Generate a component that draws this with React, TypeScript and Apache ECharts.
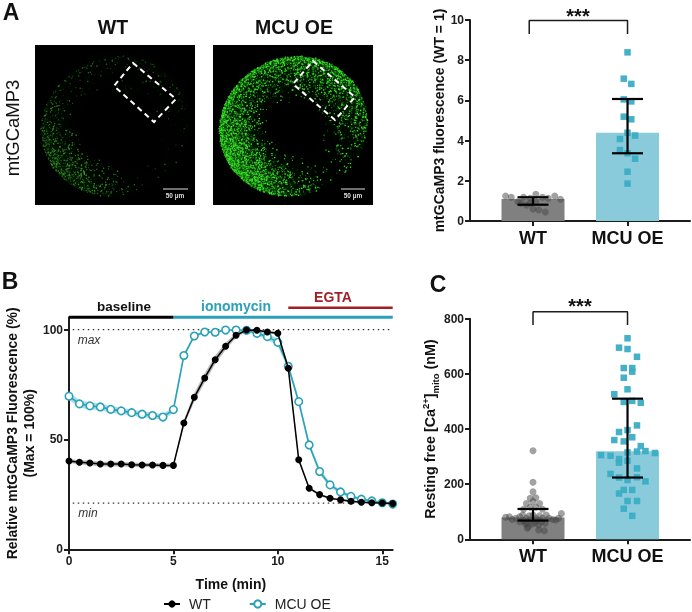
import React, { useEffect, useRef } from "react";
import * as echarts from "echarts";

const FONT = '"Liberation Sans", Arial, sans-serif';
const INK = "#1c1c1c";
const GREY_BAR = "#808080";
const TEAL_BAR = "#89cbdb";
const TEAL = "#2aa1b8";
const TEAL_DOT = "#3aadc6";
const GREY_DOT = "rgba(70,70,70,0.5)";
const RED = "#a31f27";

const groupLabels = ["WT", "MCU OE"];
const groupPositions = [0, 1];

// Panel A
const aMeans = [1.1, 4.39];
const aErrors = [
  [0, 0.81, 1.18],
  [1, 3.37, 6.07],
];
const aWtDots = [
  [-0.29, 1.24], [-0.23, 1.18], [-0.16, 0.96], [-0.1, 1.18], [-0.03, 1.13], [0.03, 1.33],
  [0.1, 1.18], [0.16, 1.13], [0.23, 1.24], [0.29, 1.08], [-0.13, 0.88], [-0.07, 0.8],
  [0, 0.6], [0.06, 0.55], [0.13, 0.45], [-0.03, 0.88], [0.03, 0.98],
];
const aMcuDots = [
  [1, 8.39], [0.96, 7.08], [1.04, 6.82], [0.96, 6.05], [1.04, 5.95], [0.96, 5.19], [1.04, 5.06],
  [1, 4.39], [0.92, 4.08], [1.08, 4.25], [0.92, 3.53], [1, 3.37], [1.08, 3.1], [1, 2.45], [1, 1.86],
];
const aBracket = [[-0.04, 9.3], [-0.04, 9.97], [1, 9.97], [1, 9.3]];

// Panel B
const timeMin = [0, 0.5, 1, 1.5, 2, 2.5, 3, 3.5, 4, 4.5, 5, 5.5, 6, 6.5, 7, 7.5, 8, 8.5, 9, 9.5, 10, 10.5, 11, 11.5, 12, 12.5, 13, 13.5, 14, 14.5, 15, 15.5];
const wtTrace = [40.2, 39.6, 39.3, 38.8, 38.8, 38.8, 38.5, 38.4, 38.4, 38.2, 38.2, 57.5, 69.2, 78, 86.3, 92.4, 97.4, 99.8, 99.7, 98.9, 98.3, 82.4, 40.8, 27.8, 24.9, 23.2, 22.5, 21.9, 21.4, 21.2, 21.1, 20.8];
const wtSem = [0.8, 0.9, 1, 1, 1, 1, 0.9, 0.9, 0.9, 0.8, 0.7, 1, 1.8, 2, 1.8, 1.6, 1, 0.4, 0.4, 0.6, 0.6, 0.8, 0.6, 0.5, 0.5, 0.4, 0.4, 0.4, 0.3, 0.3, 0.3, 0.3];
const mcuTrace = [69.7, 66.2, 65.3, 64.8, 63.7, 63, 62.2, 61.5, 60.9, 60.2, 63.6, 88.2, 97.1, 98.9, 98.8, 99.8, 99.8, 99.7, 98.3, 96.8, 94.2, 83.3, 67.2, 47.5, 35.4, 29.3, 26.1, 24.1, 22.8, 22, 21.2, 20.6];
const mcuSem = [1.6, 1.6, 1.5, 1.5, 1.4, 1.4, 1.3, 1.3, 1.3, 1.3, 1.3, 0.8, 0.6, 0.5, 0.4, 0.3, 0.3, 0.5, 1, 1.3, 1.6, 1.2, 1.2, 1.2, 1.2, 1, 0.8, 0.7, 0.6, 0.5, 0.5, 0.6];
const timeTicks = [0, 5, 10, 15];
const percentTicks = [0, 50, 100];
const maxLine = [[0.18, 100], [15.5, 100]];
const minLine = [[0.18, 21], [15.5, 21]];
const baselineBar = [[0, 105.6], [5, 105.6]];
const ionomycinBar = [[5, 105.6], [15.5, 105.6]];
const egtaBar = [[10.5, 110], [15.5, 110]];

// Panel C
const cMeans = [79, 319];
const cErrors = [
  [0, 68, 110],
  [1, 224, 510],
];
const cWtDots = [
  [0, 321], [0, 207], [0, 172], [-0.03, 149], [0.03, 151], [-0.07, 130], [0.07, 130], [0, 137],
  [-0.1, 109], [0.1, 109], [0.3, 93], [-0.03, 116], [0.03, 116],
  [-0.29, 80], [-0.25, 82], [-0.22, 72], [-0.18, 76], [-0.14, 82], [-0.11, 88], [-0.07, 76],
  [-0.04, 85], [0, 88], [0.03, 76], [0.07, 85], [0.1, 76], [0.14, 88], [0.17, 76], [0.21, 72],
  [0.24, 70], [0.27, 76],
  [-0.14, 64], [-0.08, 56], [-0.05, 46], [-0.01, 56], [0.02, 60], [0.06, 52], [0.09, 64],
  [0.13, 58], [-0.07, 60], [-0.1, 68], [-0.03, 70], [0.04, 70], [0.12, 31], [0.06, 34], [-0.06, 40],
];
const cMcuDots = [
  [1, 729], [0.91, 695], [1, 690], [1.1, 662], [0.96, 621], [1.05, 621], [1.05, 608], [0.96, 586],
  [1, 544], [0.86, 526], [0.96, 498], [1.05, 502], [1.14, 495], [1.1, 413], [1, 396], [0.91, 389],
  [1.05, 370], [0.86, 360], [0.96, 355], [1.14, 338], [1.19, 320], [1.29, 313], [1.1, 318], [1, 315],
  [0.72, 305], [0.82, 303], [0.91, 291], [1, 285], [0.91, 278], [1.1, 257], [0.82, 237], [1.1, 225],
  [0.91, 224], [1, 215], [1.19, 210], [0.96, 179], [1.05, 179], [0.91, 166], [1, 139], [1.1, 139],
  [0.96, 111], [1.05, 85],
];
const cBracket = [[0, 777], [0, 825], [1, 825], [1, 777]];

function hash(i: number, j: number, k: number) {
  let h = (i * 374761393 + j * 668265263 + k * 2147483647) | 0;
  h = Math.imul(h ^ (h >>> 13), 1274126177);
  h = Math.imul(h ^ (h >>> 16), 2246822519);
  return ((h ^ (h >>> 15)) >>> 0) / 4294967296;
}
const smooth = (a: number, b: number, v: number) => {
  const t = Math.min(1, Math.max(0, (v - a) / (b - a)));
  return t * t * (3 - 2 * t);
};

// The micrographs are photographs, not data: a deterministic speckle texture stands in for them.
function micrograph(bright: boolean) {
  const cv = document.createElement("canvas");
  cv.width = 320;
  cv.height = 320;
  const ctx = cv.getContext("2d")!;
  ctx.fillStyle = "#000";
  ctx.fillRect(0, 0, 320, 320);
  ctx.scale(2, 2);
  (ctx as any).filter = "blur(0.7px)";
  const cx = 80;
  const cy = 81;
  const R = 72;
  for (let j = 0; j < 160; j++) {
    for (let i = 0; i < 160; i++) {
      const dx = (i - cx) / R;
      const dy = (j - cy) / R;
      const a = Math.atan2(dy, dx);
      const d = Math.hypot(dx, dy) / (1 + 0.04 * Math.cos(2 * a + 0.8));
      if (d > 1) continue;
      const ll = Math.cos(a - 2.3) * 0.5 + 0.5;
      const ur = Math.cos(a + 0.8) * 0.5 + 0.5;
      const lr = Math.cos(a - 0.9) * 0.5 + 0.5;
      const fade = 1 - 0.92 * lr * lr * lr;
      const rim = smooth(0.88, 0.99, d) * (1 - lr) * (bright ? 0.4 : 0.05);
      const edge = smooth(bright ? 0.3 : 0.45, 0.95, d) * fade;
      const p = bright
        ? edge * (0.2 + 0.6 * ll * ll * ll + 0.22 * ur * ur) + rim
        : edge * (0.014 + 0.36 * ll * ll * ll * ll + 0.035 * ur) + rim;
      // soft haze below the speckles
      ctx.fillStyle = `rgba(30,${bright ? 200 : 150},20,${Math.min(1, p) * (bright ? 0.38 : 0.4)})`;
      ctx.fillRect(i, j, 1, 1);
      if (hash(i, j, bright ? 7 : 3) > p) continue;
      const v = hash(i, j, 11);
      const alpha = bright ? 0.45 + 0.55 * v : 0.2 + 0.35 * v + 0.3 * ll * ll;
      ctx.fillStyle = `rgba(${30 + v * 40},${bright ? 240 : 170},${20 + v * 30},${alpha})`;
      ctx.beginPath();
      ctx.arc(i + hash(i, j, 5), j + hash(i, j, 9), 0.4 + 0.4 * v, 0, 7);
      ctx.fill();
    }
  }
  return cv.toDataURL("image/png");
}

const axisLine = { show: true, onZero: false, lineStyle: { color: INK, width: 2 } };
const axisTick = (customValues?: number[]) => ({
  show: true,
  length: 5,
  lineStyle: { color: INK, width: 2 },
  ...(customValues ? { customValues } : {}),
});
const tickLabel = (customValues?: number[]) => ({
  color: INK,
  fontFamily: FONT,
  fontWeight: "bold" as const,
  fontSize: 12,
  margin: 6,
  ...(customValues ? { customValues } : {}),
});

function groupAxis(gridIndex: number) {
  return {
    type: "value",
    gridIndex,
    min: -0.6667,
    max: 1.661,
    splitLine: { show: false },
    axisLine,
    axisTick: axisTick(groupPositions),
    axisLabel: {
      color: "#111",
      fontFamily: FONT,
      fontWeight: "bold",
      fontSize: 18,
      margin: 8,
      customValues: groupPositions,
      formatter: (v: number) => groupLabels[Math.round(v)] ?? "",
    },
  };
}

function barSeries(idx: number, means: number[]) {
  return {
    type: "bar",
    xAxisIndex: idx,
    yAxisIndex: idx,
    barWidth: 63,
    silent: true,
    z: 1,
    data: means.map((m, i) => ({
      value: [groupPositions[i], m],
      itemStyle: { color: i === 0 ? GREY_BAR : TEAL_BAR },
    })),
  };
}
function dotSeries(idx: number, data: number[][], square: boolean) {
  return {
    type: "scatter",
    xAxisIndex: idx,
    yAxisIndex: idx,
    symbol: square ? "rect" : "circle",
    symbolSize: square ? 6.5 : 7,
    itemStyle: { color: square ? TEAL_DOT : GREY_DOT, opacity: square ? 0.95 : 1 },
    z: 2,
    data,
  };
}
function errorSeries(idx: number, data: number[][]) {
  return {
    type: "custom",
    xAxisIndex: idx,
    yAxisIndex: idx,
    z: 3,
    clip: false,
    data,
    encode: { x: 0, y: [1, 2] },
    renderItem: (_: any, api: any) => {
      const lo = api.coord([api.value(0), api.value(1)]);
      const hi = api.coord([api.value(0), api.value(2)]);
      const style = { stroke: "#000", lineWidth: 2.2, fill: "none" };
      const line = (x1: number, y1: number, x2: number, y2: number) => ({
        type: "line",
        shape: { x1, y1, x2, y2 },
        style,
      });
      return {
        type: "group",
        children: [
          line(lo[0], lo[1], hi[0], hi[1]),
          line(lo[0] - 15.5, lo[1], lo[0] + 15.5, lo[1]),
          line(hi[0] - 15.5, hi[1], hi[0] + 15.5, hi[1]),
        ],
      };
    },
  };
}
function pathSeries(idx: number, data: number[][], color: string, width: number, extra: any = {}) {
  return {
    type: "line",
    xAxisIndex: idx,
    yAxisIndex: idx,
    data,
    clip: false,
    silent: true,
    symbol: "none",
    lineStyle: { color, width, cap: "butt", ...extra },
    z: 2,
  };
}
// Shaded SEM band: one quad between each pair of neighbouring time points.
function bandSeries(mean: number[], sem: number[], color: string) {
  const data = timeMin.slice(0, -1).map((t, i) => [
    t, mean[i] - sem[i], mean[i] + sem[i],
    timeMin[i + 1], mean[i + 1] - sem[i + 1], mean[i + 1] + sem[i + 1],
  ]);
  return {
    type: "custom",
    xAxisIndex: 1,
    yAxisIndex: 1,
    silent: true,
    z: 1,
    data,
    encode: { x: [0, 3], y: [1, 2, 4, 5] },
    renderItem: (_: any, api: any) => ({
      type: "polygon",
      shape: {
        points: [
          api.coord([api.value(0), api.value(1)]),
          api.coord([api.value(3), api.value(4)]),
          api.coord([api.value(3), api.value(5)]),
          api.coord([api.value(0), api.value(2)]),
        ],
      },
      style: { fill: color, stroke: color, lineWidth: 0.3 },
    }),
  };
}

function txt(text: string, x: number, y: number, fontSize: number, extra: any = {}) {
  return {
    type: "text",
    x,
    y,
    silent: true,
    style: {
      text,
      fontSize,
      fontFamily: FONT,
      fontWeight: "bold",
      fill: "#111",
      align: "center",
      verticalAlign: "middle",
      ...extra,
    },
  };
}

export default function App() {
  const ref = useRef<HTMLDivElement>(null);
  useEffect(() => {
    const chart = echarts.init(ref.current!, undefined, { renderer: "svg" });
    const dashed = (points: number[][]) => ({
      type: "polygon",
      silent: true,
      z: 5,
      shape: { points },
      style: { fill: "none", stroke: "#fff", lineWidth: 2, lineDash: [5.5, 4] },
    });
    const scale = (x1: number, x2: number, y: number) => ({
      type: "line",
      silent: true,
      z: 5,
      shape: { x1, y1: y, x2, y2: y },
      style: { stroke: "#ddd", lineWidth: 1 },
    });
    chart.setOption({
      animation: false,
      textStyle: { fontFamily: FONT },
      grid: [
        { left: 470, top: 20, width: 220, height: 201 },
        { left: 69, top: 317.3, width: 323.7, height: 232 },
        { left: 470, top: 318.7, width: 220, height: 220.6 },
      ],
      xAxis: [
        groupAxis(0),
        {
          type: "value",
          gridIndex: 1,
          min: 0,
          max: 15.5,
          splitLine: { show: false },
          axisLine,
          axisTick: axisTick(timeTicks),
          axisLabel: tickLabel(timeTicks),
          name: "Time (min)",
          nameLocation: "middle",
          nameGap: 28,
          nameTextStyle: { color: "#111", fontFamily: FONT, fontWeight: "bold", fontSize: 14 },
        },
        groupAxis(2),
      ],
      yAxis: [
        {
          type: "value",
          gridIndex: 0,
          min: 0,
          max: 10,
          interval: 2,
          splitLine: { show: false },
          axisLine,
          axisTick: axisTick(),
          axisLabel: tickLabel(),
          name: "mtGCaMP3 fluorescence (WT = 1)",
          nameLocation: "middle",
          nameGap: 24,
          nameTextStyle: { color: "#111", fontFamily: FONT, fontWeight: "bold", fontSize: 14 },
        },
        {
          type: "value",
          gridIndex: 1,
          min: 0,
          max: 105.6,
          splitLine: { show: false },
          axisLine,
          axisTick: axisTick(percentTicks),
          axisLabel: tickLabel(percentTicks),
          name: "Relative mtGCaMP3 Fluorescence (%)\n(Max = 100%)",
          nameLocation: "middle",
          nameGap: 32,
          nameTextStyle: { color: "#111", fontFamily: FONT, fontWeight: "bold", fontSize: 14, lineHeight: 17 },
        },
        {
          type: "value",
          gridIndex: 2,
          min: 0,
          max: 800,
          interval: 200,
          splitLine: { show: false },
          axisLine,
          axisTick: axisTick(),
          axisLabel: tickLabel(),
          name: "{b|Resting free [Ca}{sup|2+}{b|]}{sub|mito}{b| (nM)}",
          nameLocation: "middle",
          nameGap: 28,
          nameTextStyle: {
            color: "#111",
            rich: {
              b: { fontFamily: FONT, fontWeight: "bold", fontSize: 14.3, color: "#111", lineHeight: 20 },
              sup: { fontFamily: FONT, fontWeight: "bold", fontSize: 9.5, color: "#111", verticalAlign: "top", lineHeight: 20 },
              sub: { fontFamily: FONT, fontWeight: "bold", fontSize: 9.5, color: "#111", verticalAlign: "bottom", lineHeight: 20 },
            },
          },
        },
      ],
      legend: {
        data: ["WT", "MCU OE"],
        left: 163,
        top: 597,
        padding: 0,
        itemWidth: 16,
        itemHeight: 9,
        itemGap: 38,
        selectedMode: false,
        textStyle: { color: "#222", fontFamily: FONT, fontSize: 14, lineHeight: 12, padding: [0, 0, 0, 4] },
      },
      series: [
        barSeries(0, aMeans),
        dotSeries(0, aWtDots, false),
        dotSeries(0, aMcuDots, true),
        errorSeries(0, aErrors),
        pathSeries(0, aBracket, INK, 1.5),

        bandSeries(mcuTrace, mcuSem, "#a9dcea"),
        bandSeries(wtTrace, wtSem, "#b9b9b9"),
        pathSeries(1, maxLine, "#333", 1.2, { type: [1.5, 3.5] }),
        pathSeries(1, minLine, "#333", 1.2, { type: [1.5, 3.5] }),
        pathSeries(1, ionomycinBar, TEAL, 3),
        pathSeries(1, baselineBar, "#000", 3),
        pathSeries(1, egtaBar, RED, 2.5),
        {
          name: "MCU OE",
          type: "line",
          xAxisIndex: 1,
          yAxisIndex: 1,
          z: 3,
          clip: false,
          symbol: "circle",
          symbolSize: 7.5,
          showAllSymbol: true,
          lineStyle: { color: TEAL, width: 1.6 },
          itemStyle: { color: "#fff", borderColor: TEAL, borderWidth: 1.6 },
          data: timeMin.map((t, i) => [t, mcuTrace[i]]),
        },
        {
          name: "WT",
          type: "line",
          xAxisIndex: 1,
          yAxisIndex: 1,
          z: 4,
          clip: false,
          symbol: "circle",
          symbolSize: 7,
          showAllSymbol: true,
          lineStyle: { color: "#000", width: 1.5 },
          itemStyle: { color: "#000" },
          data: timeMin.map((t, i) => [t, wtTrace[i]]),
        },

        barSeries(2, cMeans),
        dotSeries(2, cWtDots, false),
        dotSeries(2, cMcuDots, true),
        errorSeries(2, cErrors),
        pathSeries(2, cBracket, INK, 1.5),
      ],
      graphic: [
        { type: "image", x: 35, y: 45, silent: true, style: { image: micrograph(false), x: 0, y: 0, width: 160, height: 160 } },
        { type: "image", x: 213, y: 45, silent: true, style: { image: micrograph(true), x: 0, y: 0, width: 160, height: 160 } },
        dashed([[133, 63], [176, 99], [154, 122], [114, 86]]),
        dashed([[313, 61], [355, 97], [335, 120], [293, 84]]),
        scale(163, 188, 189),
        scale(341, 365, 189),
        txt("50 µm", 175, 195.5, 6.5, { fill: "#ddd", z: 5 }),
        txt("50 µm", 353, 195.5, 6.5, { fill: "#ddd", z: 5 }),
        txt("A", 11, 12, 23),
        txt("B", 10, 281, 23),
        txt("C", 438, 284, 23),
        txt("WT", 113, 27, 19.5),
        txt("MCU OE", 294, 27, 19.5),
        { ...txt("mtGCaMP3", 0, 0, 18.5, { fontWeight: "normal" }), x: 12, y: 128, rotation: Math.PI / 2 },
        txt("***", 578, 16, 20),
        txt("***", 580, 306, 20),
        txt("baseline", 124, 306, 13.5),
        txt("ionomycin", 236, 306, 14, { fill: TEAL }),
        txt("EGTA", 333, 297, 14, { fill: RED }),
        txt("max", 89, 340, 12, { fontWeight: "normal", fontStyle: "italic", fill: "#333" }),
        txt("min", 88, 513, 12, { fontWeight: "normal", fontStyle: "italic", fill: "#333" }),
      ],
    });
    return () => chart.dispose();
  }, []);
  return <div ref={ref} style={{ position: "fixed", left: 0, top: 0, width: 692, height: 612 }} />;
}
